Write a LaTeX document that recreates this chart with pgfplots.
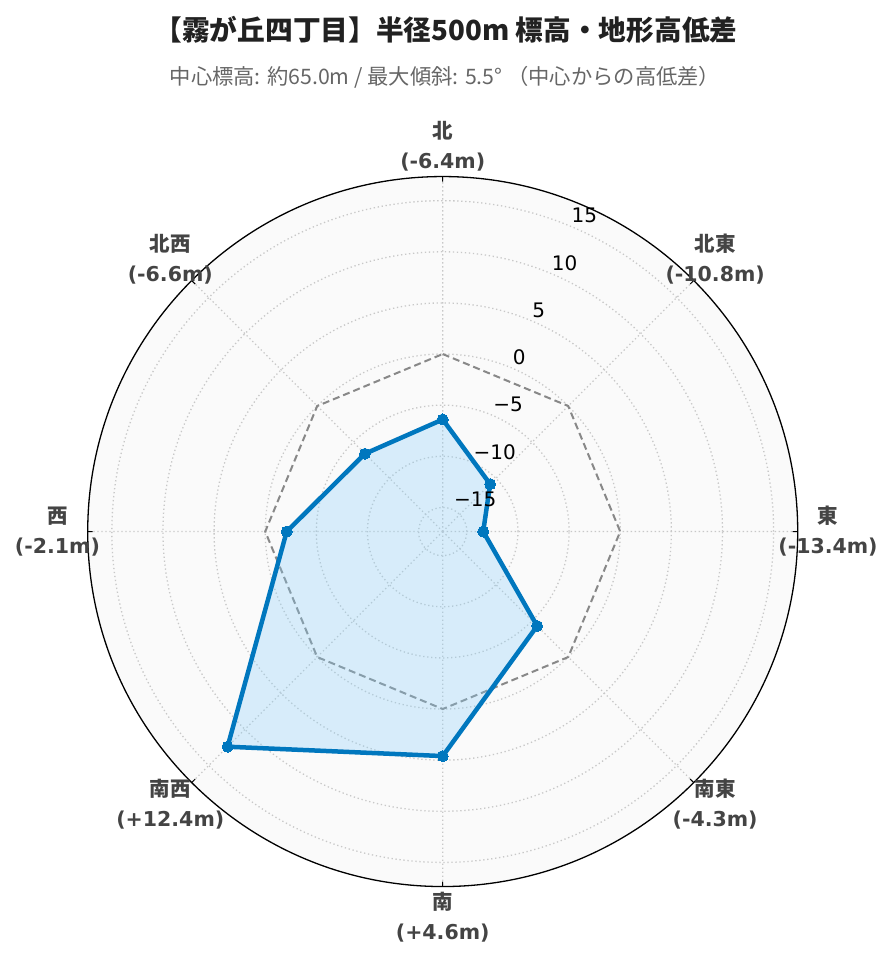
\documentclass[border=0pt]{standalone}
\usepackage{fontspec}
\usepackage{pgfplots}
\pgfplotsset{compat=1.18}
\usepgfplotslibrary{polar}
\setmainfont{DejaVu Sans}
\newfontfamily\cjk{Noto Sans CJK JP}
\definecolor{linecol}{HTML}{0077BE}
\definecolor{fillcol}{HTML}{87CEFA}
\definecolor{bgcol}{HTML}{FAFAFA}
\definecolor{gridcol}{HTML}{C8C8C8}
\definecolor{refcol}{HTML}{888888}
\definecolor{labcol}{HTML}{444444}
\begin{document}
\begin{tikzpicture}[x=1pt,y=1pt]
\useasboundingbox (0,0) rectangle (892,962);
\node[font=\cjk\bfseries\fontsize{27.7}{32}\selectfont, text=black!87] at (446,932) {【霧が丘四丁目】半径500m 標高・地形高低差};
\node[font=\cjk\fontsize{21.3}{24}\selectfont, text=black!60] at (445,885) {中心標高: 約65.0m / 最大傾斜: 5.5° （中心からの高低差）};
\begin{polaraxis}[at={(433,421)}, anchor=center, scale only axis, width=710pt, height=710pt,
  ymin=0, ymax=34.72,
  xtick={0,45,...,315}, ytick={2.36,7.36,12.36,17.36,22.36,27.36,32.36},
  xticklabels={}, yticklabels={},
  grid=major, major grid style={gridcol, line width=1.3pt, dash pattern=on 1.3pt off 2.7pt},
  axis line style={black, line width=1.3pt},
  y axis line style={draw=none},
  major tick length=5pt, tick align=outside,
  xtick style={black, line width=1pt},
  ytick style={draw=none},
  axis background/.style={fill=bgcol},
  clip=false,
  y filter/.expression={y+17.36}]
\addplot[refcol, line width=2pt, dash pattern=on 7pt off 4pt, mark=none]
  coordinates {(90,0)(45,0)(0,0)(-45,0)(-90,0)(-135,0)(-180,0)(-225,0)(-270,0)};
\addplot[linecol, line width=4.5pt, line join=round, fill=fillcol, fill opacity=0.3,
  mark=*, mark size=5.5pt, mark options={fill=linecol, draw=linecol, line width=0pt, fill opacity=1}]
  coordinates {(90,-6.4)(45,-10.8)(0,-13.4)(-45,-4.3)(-90,4.6)(-135,12.4)(-180,-2.1)(-225,-6.6)(-270,-6.4)};
% radial tick labels (shifted radius = value + 17.36)
\begin{scope}[every node/.style={anchor=south west, inner sep=0pt, xshift=2pt, yshift=2.5pt, font=\fontsize{20}{22}\selectfont, text=black}]
\node at (axis cs:67.5,32.36) {15};
\node at (axis cs:67.5,27.36) {10};
\node at (axis cs:67.5,22.36) {5};
\node at (axis cs:67.5,17.36) {0};
\node at (axis cs:67.5,12.36) {−5};
\node at (axis cs:67.5,7.36) {−10};
\node at (axis cs:67.5,2.36) {−15};
\end{scope}
% angular labels
\begin{scope}[every node/.style={align=center, text=labcol, font=\bfseries\fontsize{20.5}{30}\selectfont}]
\node at (axis cs:90,37.68) {{\cjk\bfseries 北}\\(-6.4m)};
\node at (axis cs:45,37.68) {{\cjk\bfseries 北東}\\(-10.8m)};
\node at (axis cs:0,37.68) {{\cjk\bfseries 東}\\(-13.4m)};
\node at (axis cs:-45,37.68) {{\cjk\bfseries 南東}\\(-4.3m)};
\node at (axis cs:-90,37.68) {{\cjk\bfseries 南}\\(+4.6m)};
\node at (axis cs:-135,37.68) {{\cjk\bfseries 南西}\\(+12.4m)};
\node at (axis cs:180,37.68) {{\cjk\bfseries 西}\\(-2.1m)};
\node at (axis cs:135,37.68) {{\cjk\bfseries 北西}\\(-6.6m)};
\end{scope}
\end{polaraxis}
\end{tikzpicture}
\end{document}
